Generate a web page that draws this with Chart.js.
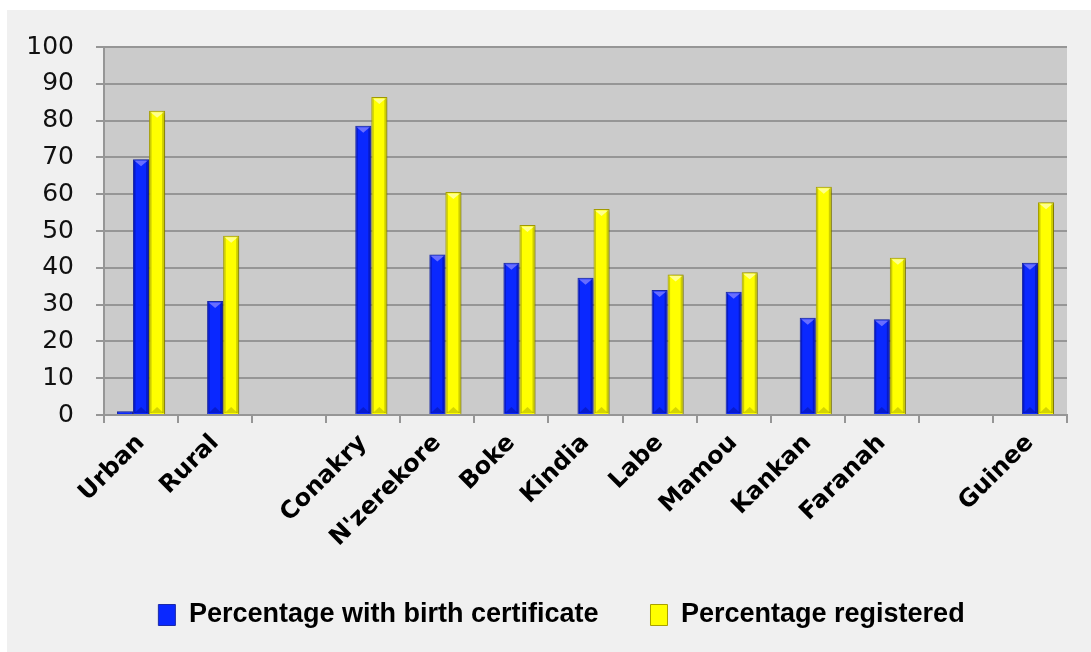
<!DOCTYPE html>
<html>
<head>
<meta charset="utf-8">
<script src="https://cdn.jsdelivr.net/npm/chart.js@4.4.1/dist/chart.umd.min.js"></script>
<style>
  html, body { margin: 0; padding: 0; background: #ffffff; }
  #wrap {
    position: absolute; left: 7px; top: 10px;
    width: 1084px; height: 642px;
    background: #f0f0f0;
  }
</style>
</head>
<body>
<div id="wrap"><canvas id="regChart"></canvas></div>
<script>
const categories = ['Urban', 'Rural', '', 'Conakry', "N'zerekore", 'Boke', 'Kindia', 'Labe', 'Mamou', 'Kankan', 'Faranah', '', 'Guinee'];
const extraValues = [1, null, null, null, null, null, null, null, null, null, null, null, null];
const birthCertificate = [69.5, 31, null, 78.6, 43.6, 41.4, 37.3, 34, 33.5, 26.4, 26, null, 41.4];
const registered = [82.7, 48.7, null, 86.4, 60.6, 51.6, 56, 38.2, 38.8, 62, 42.7, null, 57.8];
const yTicks = [0, 10, 20, 30, 40, 50, 60, 70, 80, 90, 100];

const BLUE = '#0a28ff';
const YELLOW = '#ffff00';

// grey panel behind the bars
const plotBg = {
  id: 'plotBg',
  beforeDraw(chart) {
    const { ctx, chartArea: a } = chart;
    ctx.save();
    ctx.fillStyle = '#cbcbcb';
    ctx.fillRect(a.left, a.top, a.right - a.left, a.bottom - a.top);
    ctx.restore();
  }
};

// nudge the legend a bit to the right of the canvas centre
const legendShift = {
  id: 'legendShift',
  afterLayout(chart) {
    if (!chart.legend) return;
    chart.legend.left += 14.5;
    chart.legend.right += 14.5;
  }
};

// soft drop shadow + bevelled look on every bar
const bevel = {
  id: 'bevel',
  beforeDatasetDraw(chart) {
    const ctx = chart.ctx;
    ctx.save();
    ctx.shadowColor = 'rgba(0,0,0,0.35)';
    ctx.shadowOffsetX = 2;
    ctx.shadowOffsetY = 1;
    ctx.shadowBlur = 3;
  },
  afterDatasetDraw(chart, args) {
    const ctx = chart.ctx;
    ctx.restore();
    const ds = chart.data.datasets[args.index];
    const light = ds.bevelLight, dark = ds.bevelDark;
    args.meta.data.forEach(bar => {
      if (bar.skip || bar.y == null || isNaN(bar.y)) return;
      const w = bar.width, l = bar.x - w / 2, r = bar.x + w / 2;
      const top = Math.min(bar.y, bar.base), bot = Math.max(bar.y, bar.base);
      const h = bot - top;
      if (h < 1) return;
      const s = Math.min(7, h / 2);
      ctx.save();
      // side shading
      ctx.fillStyle = dark;
      ctx.globalAlpha = 0.35;
      ctx.fillRect(r - 3, top + 1, 2, h - 2);
      ctx.fillRect(l + 1, top + 1, 1.5, h - 2);
      // top chevron
      ctx.globalAlpha = 0.8;
      ctx.fillStyle = light;
      ctx.beginPath();
      ctx.moveTo(l + 1.5, top + 1.5);
      ctx.lineTo(r - 1.5, top + 1.5);
      ctx.lineTo(bar.x, top + s);
      ctx.closePath();
      ctx.fill();
      // bottom chevron
      ctx.globalAlpha = 0.3;
      ctx.fillStyle = dark;
      ctx.beginPath();
      ctx.moveTo(l + 1.5, bot - 1);
      ctx.lineTo(r - 1.5, bot - 1);
      ctx.lineTo(bar.x, bot - s);
      ctx.closePath();
      ctx.fill();
      ctx.restore();
    });
  }
};

const ctx = document.getElementById('regChart').getContext('2d');
new Chart(ctx, {
  type: 'bar',
  data: {
    labels: categories,
    datasets: [
      { label: '', data: extraValues, backgroundColor: BLUE, borderColor: '#1c2aa8', borderWidth: 1,
        bevelLight: '#8080ff', bevelDark: '#000060' },
      { label: 'Percentage with birth certificate', data: birthCertificate, backgroundColor: BLUE,
        borderColor: '#1c2aa8', borderWidth: 1, bevelLight: '#8080ff', bevelDark: '#000060' },
      { label: 'Percentage registered', data: registered, backgroundColor: YELLOW,
        borderColor: '#a8a000', borderWidth: 1, bevelLight: '#ffffb0', bevelDark: '#707000' }
    ]
  },
  options: {
    responsive: true,
    maintainAspectRatio: false,
    devicePixelRatio: 1,
    animation: false,
    datasets: { bar: { barPercentage: 1, categoryPercentage: 0.65, grouped: true } },
    layout: { padding: { left: 20, right: 24, top: 35, bottom: 13.5 } },
    scales: {
      y: {
        min: 0,
        max: 100,
        afterBuildTicks: (scale) => { scale.ticks = yTicks.map(v => ({ value: v })); },
        afterFit: (scale) => { scale.width = 77; },
        grid: { color: '#969696', lineWidth: 2, tickLength: 8, drawTicks: true },
        border: { display: true, color: '#969696', width: 2 },
        ticks: { color: '#111', padding: 22, font: { family: 'DejaVu Sans', size: 25 } }
      },
      x: {
        afterFit: (scale) => { scale.height = 134.5; },
        grid: { display: true, drawOnChartArea: false, offset: true, color: '#969696', lineWidth: 2, tickLength: 8 },
        border: { display: true, color: '#969696', width: 2 },
        ticks: {
          color: '#000',
          minRotation: 45,
          maxRotation: 45,
          autoSkip: false,
          padding: 6,
          font: { family: 'DejaVu Sans', size: 24, weight: 'bold' }
        }
      }
    },
    plugins: {
      legend: {
        position: 'bottom',
        labels: {
          filter: (item) => item.text !== '',
          boxWidth: 17,
          boxHeight: 21,
          padding: 52,
          color: '#000',
          font: { family: 'Liberation Sans', size: 27, weight: 'bold' }
        }
      },
      tooltip: { enabled: false }
    }
  },
  plugins: [plotBg, legendShift, bevel]
});
</script>
</body>
</html>
